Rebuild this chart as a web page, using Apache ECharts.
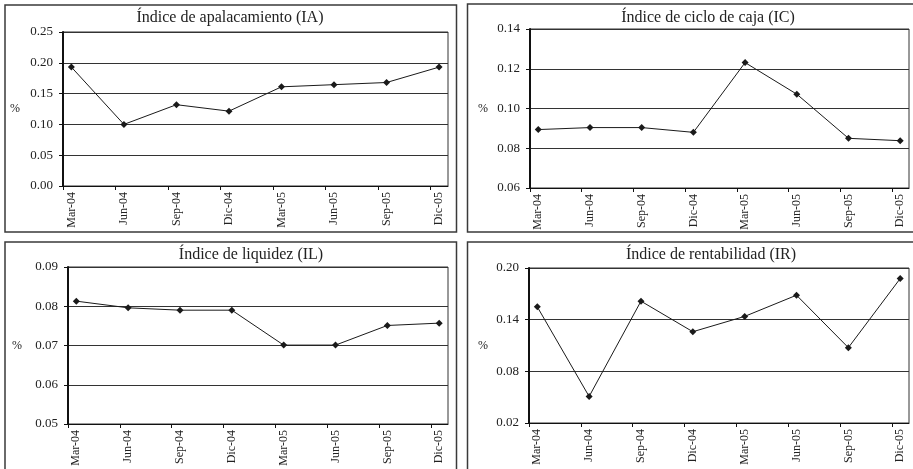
<!DOCTYPE html>
<html>
<head>
<meta charset="utf-8">
<script src="https://cdn.jsdelivr.net/npm/echarts@6/dist/echarts.min.js"></script>
<style>
html,body{margin:0;padding:0;background:#fff;}
#chart{width:913px;height:469px;}
</style>
</head>
<body>
<div id="chart"></div>
<script>
// ---- data ----
const categories = ['Mar-04', 'Jun-04', 'Sep-04', 'Dic-04', 'Mar-05', 'Jun-05', 'Sep-05', 'Dic-05'];

const iaTitle = 'Índice de apalacamiento (IA)';
const iaValues = [0.193, 0.100, 0.132, 0.1215, 0.161, 0.1645, 0.168, 0.193];
const iaTicks = [0.00, 0.05, 0.10, 0.15, 0.20, 0.25];

const icTitle = 'Índice de ciclo de caja (IC)';
const icValues = [0.0894, 0.0904, 0.0904, 0.0880, 0.1231, 0.1072, 0.0850, 0.0838];
const icTicks = [0.06, 0.08, 0.10, 0.12, 0.14];

const ilTitle = 'Índice de liquidez (IL)';
const ilValues = [0.0813, 0.0796, 0.0790, 0.0790, 0.0701, 0.0701, 0.0751, 0.0757];
const ilTicks = [0.05, 0.06, 0.07, 0.08, 0.09];

const irTitle = 'Índice de rentabilidad (IR)';
const irValues = [0.1549, 0.0508, 0.1615, 0.1260, 0.1438, 0.1684, 0.1075, 0.1877];
const irTicks = [0.02, 0.08, 0.14, 0.20];

const yName = '%';

// ---- layout / style ----
const FONT = 'Liberation Serif';
const TXT = '#222';
const LINE = '#1a1a1a';
const X_MIN = -0.16, X_MAX = 7.17;

const panels = [
  {title: iaTitle, values: iaValues, ticks: iaTicks, grid: {left: 63, top: 32, width: 385, height: 154}, titleX: 230, titleY: 10, nameGap: 43},
  {title: icTitle, values: icValues, ticks: icTicks, grid: {left: 530, top: 29, width: 379, height: 159}, titleX: 708, titleY: 10, nameGap: 42},
  {title: ilTitle, values: ilValues, ticks: ilTicks, grid: {left: 68, top: 267, width: 380, height: 157}, titleX: 251, titleY: 247, nameGap: 46},
  {title: irTitle, values: irValues, ticks: irTicks, grid: {left: 529, top: 268, width: 380, height: 155}, titleX: 711, titleY: 247, nameGap: 41}
];

const option = {
  animation: false,
  backgroundColor: '#fff',
  title: [], grid: [], xAxis: [], yAxis: [], series: [],
  graphic: [
    {type: 'rect', shape: {x: 5, y: 5, width: 451.5, height: 227}, style: {fill: 'none', stroke: '#3a3a3a', lineWidth: 1.5}},
    {type: 'rect', shape: {x: 467.5, y: 4, width: 460, height: 228}, style: {fill: 'none', stroke: '#3a3a3a', lineWidth: 1.5}},
    {type: 'rect', shape: {x: 5, y: 242, width: 451.5, height: 240}, style: {fill: 'none', stroke: '#3a3a3a', lineWidth: 1.5}},
    {type: 'rect', shape: {x: 467.5, y: 242, width: 460, height: 240}, style: {fill: 'none', stroke: '#3a3a3a', lineWidth: 1.5}}
  ]
};

panels.forEach((p, k) => {
  const tMin = p.ticks[0], tMax = p.ticks[p.ticks.length - 1];
  const step = p.ticks[1] - p.ticks[0];
  option.title.push({
    text: p.title, left: p.titleX, top: p.titleY, textAlign: 'center', padding: 0,
    textStyle: {fontFamily: FONT, fontSize: 16, fontWeight: 'normal', color: TXT}
  });
  option.grid.push(Object.assign({show: true, borderColor: '#333', borderWidth: 1, backgroundColor: 'transparent'}, p.grid));
  option.xAxis.push({
    type: 'value', gridIndex: k, min: X_MIN, max: X_MAX,
    axisLine: {show: true, onZero: false, lineStyle: {color: '#111', width: 1}},
    axisTick: {show: true, length: 4, lineStyle: {color: '#111'}, customValues: categories.map((c, i) => i + X_MIN)},
    axisLabel: {
      customValues: categories.map((c, i) => i),
      formatter: v => categories[Math.round(v)],
      rotate: 90, margin: 6, fontFamily: FONT, fontSize: 12, color: TXT
    },
    splitLine: {show: false}
  });
  option.yAxis.push({
    type: 'value', gridIndex: k, min: tMin, max: tMax, interval: step,
    name: yName, nameLocation: 'middle', nameRotate: 0, nameGap: p.nameGap,
    nameTextStyle: {fontFamily: FONT, fontSize: 12, color: TXT},
    axisLine: {show: true, onZero: false, lineStyle: {color: '#111', width: 2}},
    axisTick: {show: true, length: 4, lineStyle: {color: '#111'}},
    axisLabel: {margin: 10, fontFamily: FONT, fontSize: 13, color: TXT, formatter: v => v.toFixed(2)},
    splitLine: {show: true, lineStyle: {color: '#333', width: 1}}
  });
  option.series.push({
    type: 'line', xAxisIndex: k, yAxisIndex: k,
    data: p.values.map((v, i) => [i, v]),
    symbol: 'diamond', symbolSize: 7,
    lineStyle: {color: LINE, width: 1},
    itemStyle: {color: LINE}
  });
});

const chart = echarts.init(document.getElementById('chart'), null, {renderer: 'canvas'});
chart.setOption(option);
</script>
</body>
</html>
